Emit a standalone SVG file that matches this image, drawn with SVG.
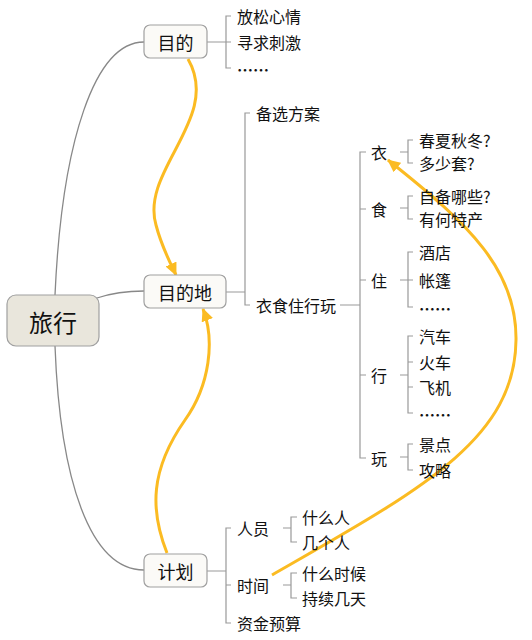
<svg xmlns="http://www.w3.org/2000/svg" width="532" height="640" viewBox="0 0 532 640">
<style>
.t{font-family:"Noto Sans CJK SC","Liberation Sans",sans-serif;font-size:16px;fill:#111;dominant-baseline:central}
.d{font-weight:bold}
.n{font-family:"Noto Sans CJK SC","Liberation Sans",sans-serif;font-size:18px;fill:#111;dominant-baseline:central;text-anchor:middle}
.box{fill:#fbfaf7;stroke:#a0a0a0;stroke-width:1.2}
.root{fill:#e9e6dc;stroke:#a0a0a0;stroke-width:1.2}
.c{fill:none;stroke:#888;stroke-width:1.3}
.b{fill:none;stroke:#999;stroke-width:1.2}
.y{fill:none;stroke:#fbbb22;stroke-width:3}
</style>
<defs>
<marker id="ah" markerUnits="userSpaceOnUse" markerWidth="14" markerHeight="14" refX="12" refY="7" orient="auto">
<path d="M0,1 L13,7 L0,13 Z" fill="#fbbb22"/>
</marker>
</defs>
<g id="connectors">
<path class="c" d="M55,295 C62,140 95,42 144,42"/>
<path class="c" d="M97,298 C115,292 130,291 144,291"/>
<path class="c" d="M55,346 C60,480 90,570 144,570"/>
<path class="b" d="M207,42 H226 M231,16 H226 V68 H231 M226,42 H231"/>
<path class="b" d="M226,292 H245 M250,113 H245 V305 H250"/>
<path class="b" d="M340,305 H360 M366,152 H360 V458 H366 M360,209 H366 M360,280 H366 M360,375 H366"/>
<path class="b" d="M400,152 H408 M413,140 H408 V163 H413"/>
<path class="b" d="M400,208 H408 M413,196 H408 V219 H413"/>
<path class="b" d="M400,280 H413 M413,252 H408 V307 H413"/>
<path class="b" d="M400,375 H408 M413,336 H408 V413 H413 M408,362 H413 M408,387 H413"/>
<path class="b" d="M400,457 H408 M413,444 H408 V470 H413"/>
<path class="b" d="M207,571 H226 M231,528 H226 V623 H231 M226,585 H231"/>
<path class="b" d="M283,528 H291 M297,517 H291 V542 H297"/>
<path class="b" d="M283,585 H291 M297,573 H291 V598 H297"/>
<path class="y" marker-end="url(#ah)" d="M188,59 C222,118 140,170 156,225 C162,248 170,262 176,275"/>
<path class="y" marker-end="url(#ah)" d="M167,553 C150,510 150,470 185,420 C210,385 215,340 203,309"/>
<path class="y" marker-end="url(#ah)" d="M272,575 C420,490 515,440 516,340 C517,270 470,225 388,160"/>
</g>
<g id="root"><rect class="root" x="7" y="295" width="92" height="51" rx="9"/><text class="n" style="font-size:24px" x="53" y="321">旅行</text></g>
<g id="mudi"><rect class="box" x="144" y="25" width="63" height="33" rx="6"/><text class="n" x="175.5" y="42">目的</text></g>
<g id="mudidi"><rect class="box" x="144" y="275" width="82" height="33" rx="6"/><text class="n" x="185" y="292">目的地</text></g>
<g id="jihua"><rect class="box" x="144" y="554" width="63" height="33" rx="6"/><text class="n" x="175.5" y="571">计划</text></g>
<g id="leaves">
<text class="t" x="237" y="16">放松心情</text>
<text class="t" x="237" y="42">寻求刺激</text>
<text class="t d" x="237" y="69">……</text>
<text class="t" x="256" y="113">备选方案</text>
<text class="t" x="256" y="305">衣食住行玩</text>
<text class="t" x="371" y="152">衣</text>
<text class="t" x="371" y="209">食</text>
<text class="t" x="371" y="280">住</text>
<text class="t" x="371" y="375">行</text>
<text class="t" x="371" y="458">玩</text>
<text class="t" x="419" y="140">春夏秋冬?</text>
<text class="t" x="419" y="163">多少套?</text>
<text class="t" x="419" y="196">自备哪些?</text>
<text class="t" x="419" y="219">有何特产</text>
<text class="t" x="419" y="252">酒店</text>
<text class="t" x="419" y="280">帐篷</text>
<text class="t d" x="419" y="308">……</text>
<text class="t" x="419" y="336">汽车</text>
<text class="t" x="419" y="362">火车</text>
<text class="t" x="419" y="387">飞机</text>
<text class="t d" x="419" y="414">……</text>
<text class="t" x="419" y="444">景点</text>
<text class="t" x="419" y="470">攻略</text>
<text class="t" x="237" y="528">人员</text>
<text class="t" x="237" y="585">时间</text>
<text class="t" x="237" y="623">资金预算</text>
<text class="t" x="302" y="517">什么人</text>
<text class="t" x="302" y="542">几个人</text>
<text class="t" x="302" y="573">什么时候</text>
<text class="t" x="302" y="598">持续几天</text>
</g>
</svg>
